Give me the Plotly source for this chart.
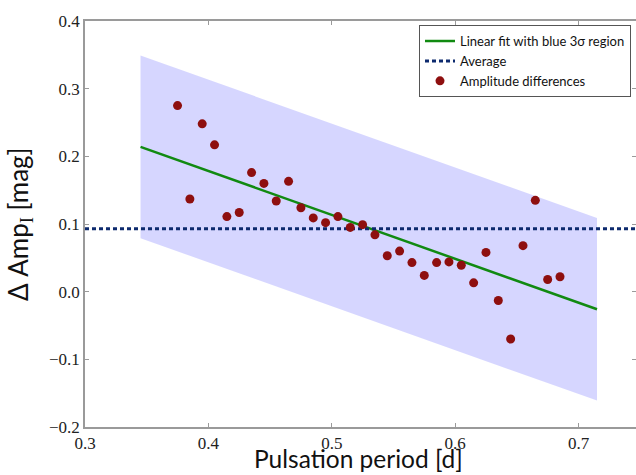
import plotly.graph_objects as go

# Data
period = [0.375, 0.385, 0.395, 0.405, 0.415, 0.425, 0.435, 0.445, 0.455, 0.465,
          0.475, 0.485, 0.495, 0.505, 0.515, 0.525, 0.535, 0.545, 0.555, 0.565,
          0.575, 0.585, 0.595, 0.605, 0.615, 0.625, 0.635, 0.645, 0.655, 0.665,
          0.675, 0.685]
amp_diff = [0.275, 0.137, 0.248, 0.217, 0.111, 0.117, 0.176, 0.160, 0.134, 0.163,
            0.124, 0.109, 0.102, 0.111, 0.095, 0.099, 0.084, 0.053, 0.060, 0.043,
            0.024, 0.043, 0.044, 0.039, 0.013, 0.058, -0.013, -0.070, 0.068, 0.135,
            0.018, 0.022]
fit_x = [0.345, 0.715]
fit_y = [0.214, -0.026]
sigma3 = 0.135
average = 0.093

x_ticks = [0.3, 0.4, 0.5, 0.6, 0.7]
y_ticks = [-0.2, -0.1, 0.0, 0.1, 0.2, 0.3, 0.4]

upper = [v + sigma3 for v in fit_y]
lower = [v - sigma3 for v in fit_y]

fig = go.Figure()
fig.add_trace(go.Scatter(x=fit_x, y=lower, mode="lines", line=dict(width=0),
                         showlegend=False, hoverinfo="skip"))
fig.add_trace(go.Scatter(x=fit_x, y=upper, mode="lines", line=dict(width=0),
                         fill="tonexty", fillcolor="rgba(0,0,255,0.16)",
                         showlegend=False, hoverinfo="skip"))
fig.add_trace(go.Scatter(x=fit_x, y=fit_y, mode="lines",
                         line=dict(color="#118a11", width=2.5),
                         name="Linear fit with blue 3σ region"))
fig.add_trace(go.Scatter(x=[0.3, 0.75], y=[average, average], mode="lines",
                         line=dict(color="#0d2a6e", width=3, dash="4px,3px"),
                         name="Average"))
fig.add_trace(go.Scatter(x=period, y=amp_diff, mode="markers",
                         marker=dict(color="#8e0f0f", size=9),
                         name="Amplitude differences"))

serif = "Liberation Serif"
sans = "Lato"
axis_common = dict(showgrid=False, zeroline=False, showline=True,
                   linecolor="#9a9a9a", linewidth=1.5, ticks="inside",
                   ticklen=4, tickcolor="#9a9a9a", mirror="ticks",
                   automargin=False,
                   tickfont=dict(family=serif, size=17, color="#222"))

fig.update_xaxes(range=[0.3, 0.7466], tickvals=x_ticks,
                 ticktext=[f"{v:.1f}" for v in x_ticks], **axis_common)
fig.update_yaxes(range=[-0.2, 0.4], tickvals=y_ticks,
                 ticktext=[f"{v:.1f}".replace("-", "\u2212") for v in y_ticks],
                 **axis_common)

fig.update_layout(
    width=636, height=475,
    margin=dict(l=85, r=0, t=21, b=48, autoexpand=False),
    plot_bgcolor="white", paper_bgcolor="white",
    legend=dict(x=(631 - 85) / 551, y=0.99, xanchor="right", yanchor="top",
                traceorder="normal",
                bgcolor="white", bordercolor="#555", borderwidth=1,
                font=dict(family=sans, size=13, color="#111"),
                tracegroupgap=0),
    annotations=[
        dict(text="Pulsation period [d]", xref="paper", yref="paper",
             x=(358.5 - 85) / 551, y=-(459 - 427) / 406, xanchor="center",
             yanchor="middle",
             showarrow=False, font=dict(family=sans, size=24.5, color="#111")),
        dict(text="Δ Amp<sub><span style='font-family:Liberation Serif'>I</span></sub> [mag]",
             xref="paper", yref="paper", x=(19 - 85) / 551, y=0.5,
             xanchor="center", yanchor="middle", textangle=-90,
             showarrow=False, font=dict(family=sans, size=26, color="#111")),
    ],
)

fig.write_html("out.html", config={"displayModeBar": False},
               post_script="document.body.style.margin='0';document.body.style.padding='0';")
